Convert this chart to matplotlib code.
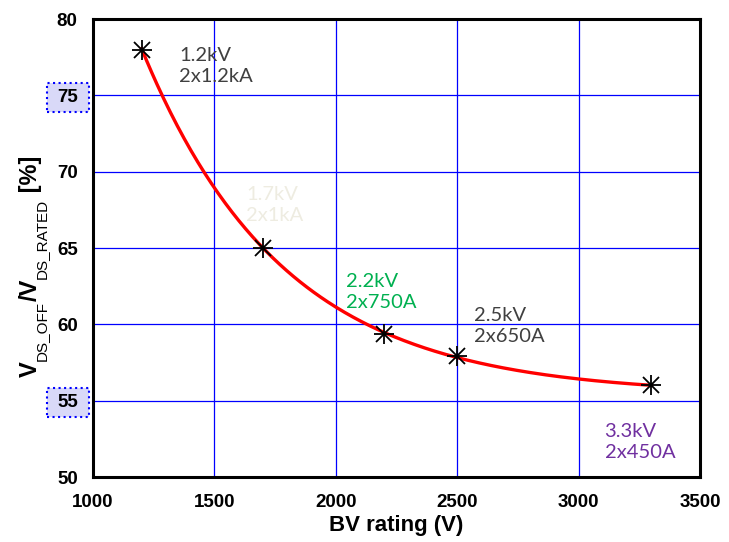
import numpy as np
import matplotlib
matplotlib.use("Agg")
import matplotlib.pyplot as plt
from matplotlib.patches import Rectangle

# measured points: breakdown voltage rating vs. V_DS_OFF / V_DS_RATED
bv_rating = np.array([1200, 1700, 2200, 2500, 3300])
vds_ratio = np.array([78.0, 65.0, 59.4, 57.9, 56.0])

# module labels for each point
labels = ["1.2kV\n2x1.2kA", "1.7kV\n2x1kA", "2.2kV\n2x750A", "2.5kV\n2x650A", "3.3kV\n2x450A"]
label_x = [1354, 1630, 2041, 2568, 3107]
label_y = [76.9, 67.8, 62.1, 59.9, 52.3]
label_colors = ["#404040", "#EEECE1", "#00B050", "#404040", "#7030A0"]

x_ticks = [1000, 1500, 2000, 2500, 3000, 3500]
y_ticks = [50, 55, 60, 65, 70, 75, 80]
boxed_ticks = [55, 75]

# y label pieces: text, size, weight, subscript
ylabel_parts = [("V", 17, "bold", False), ("DS_OFF", 11, "normal", True),
                ("/V", 17, "bold", False), ("DS_RATED", 11, "normal", True),
                (" [%]", 17, "bold", False)]

plt.rcParams["font.family"] = ["Liberation Sans", "DejaVu Sans"]

W, H = 729, 542


# exponential trend  y = c + a*exp(-k*x), c chosen by least squares
def exp_trend(x, y):
    best = None
    for c in np.linspace(40, y.min() - 0.05, 400):
        k, b = np.polyfit(x, np.log(y - c), 1)
        err = np.sum((c + np.exp(b + k * x) - y) ** 2)
        if best is None or err < best[0]:
            best = (err, c, k, b)
    _, c, k, b = best
    xs = np.linspace(x.min(), x.max(), 300)
    return xs, c + np.exp(b + k * xs)


fig = plt.figure(figsize=(W / 100, H / 100), dpi=100)
ax = fig.add_axes([0.1276, 0.1199, 0.8326, 0.8450])

xs, ys = exp_trend(bv_rating, vds_ratio)
ax.plot(xs, ys, color="red", lw=2.4, zorder=3)
ax.plot(bv_rating, vds_ratio, ls="none", marker="+", ms=15, mew=1.3, color="black", zorder=4)
ax.plot(bv_rating, vds_ratio, ls="none", marker="x", ms=11, mew=1.3, color="black", zorder=4)

for txt, tx, ty, col in zip(labels, label_x, label_y, label_colors):
    ax.text(tx, ty, txt, color=col, fontsize=14.5, family=["Lato", "DejaVu Sans"],
            ha="left", va="center", linespacing=1.27)

ax.set_xlim(1000, 3500)
ax.set_ylim(50, 80)
ax.set_xticks(x_ticks)
ax.set_yticks(y_ticks)
ax.grid(True, color="blue", lw=0.9)
ax.set_axisbelow(True)
ax.tick_params(length=0, labelsize=13.5)
ax.tick_params(axis="y", pad=11)
ax.tick_params(axis="x", pad=12)
for lab in ax.get_xticklabels() + ax.get_yticklabels():
    lab.set_fontweight("bold")
for sp in ax.spines.values():
    sp.set_linewidth(2.2)

ax.set_xlabel("BV rating (V)", fontsize=16, fontweight="bold", labelpad=3)

renderer = fig.canvas.get_renderer()

# dotted boxes behind two of the y tick labels
for lab, val in zip(ax.get_yticklabels(), y_ticks):
    if val in boxed_ticks:
        bb = lab.get_window_extent(renderer)
        rect = Rectangle((bb.x0 - 10, bb.y0 - 6), bb.width + 21, bb.height + 12,
                         transform=None, fc="#D9D9F8", ec="blue", ls=":", lw=1.5,
                         zorder=0)
        fig.add_artist(rect)

# rotated y label built from pieces so the subscripts can be small
y_pos = H - 377
x_base = 37
for txt, size, weight, sub in ylabel_parts:
    x_pos = x_base + (9 if sub else 0)
    t = fig.text(x_pos / W, y_pos / H, txt, fontsize=size, fontweight=weight,
                 rotation=90, rotation_mode="anchor", ha="left", va="baseline")
    y_pos += t.get_window_extent(renderer).height

fig.savefig("out.png", dpi=100)
